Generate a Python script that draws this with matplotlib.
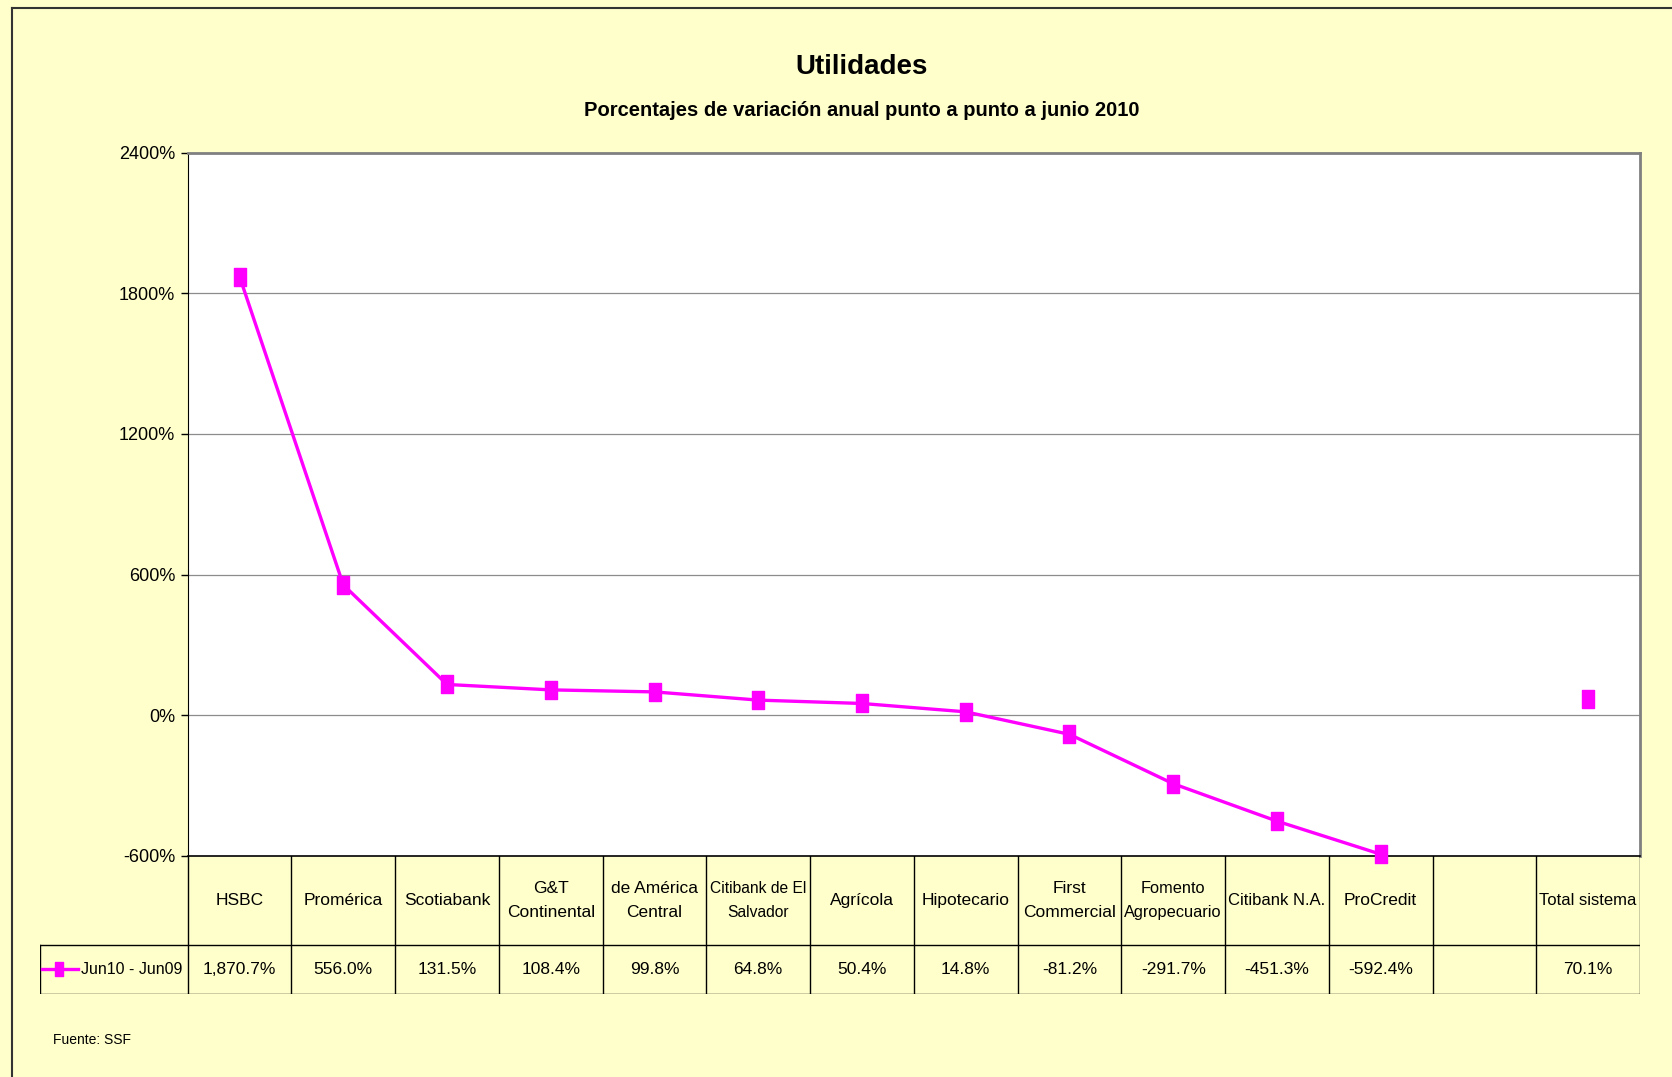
import matplotlib
matplotlib.use("Agg")
import matplotlib.pyplot as plt
import numpy as np
from matplotlib import font_manager
from matplotlib.path import Path
from matplotlib.lines import Line2D

# ---- data ----
categories = ["HSBC", "Promérica", "Scotiabank", "G&T\nContinental", "de América\nCentral",
              "Citibank de El\nSalvador", "Agrícola", "Hipotecario", "First\nCommercial",
              "Fomento\nAgropecuario", "Citibank N.A.", "ProCredit", "", "Total sistema"]
values = [1870.7, 556.0, 131.5, 108.4, 99.8, 64.8, 50.4, 14.8, -81.2, -291.7, -451.3, -592.4,
          np.nan, 70.1]
value_labels = ["1,870.7%", "556.0%", "131.5%", "108.4%", "99.8%", "64.8%", "50.4%", "14.8%",
                "-81.2%", "-291.7%", "-451.3%", "-592.4%", "", "70.1%"]
series_name = "Jun10 - Jun09"
yticks = [-600, 0, 600, 1200, 1800, 2400]
title = "Utilidades"
subtitle = "Porcentajes de variación anual punto a punto a junio 2010"
source = "Fuente: SSF"

# ---- fonts ----
names = {f.name for f in font_manager.fontManager.ttflist}
fam = "Liberation Sans Narrow" if "Liberation Sans Narrow" in names else "Liberation Sans"
plt.rcParams['font.family'] = [fam, 'DejaVu Sans']

BG = "#FFFFCC"
MAG = "#FF00FF"

W, H = 1672, 1077
fig = plt.figure(figsize=(W / 100, H / 100), dpi=100)
fig.patch.set_facecolor(BG)

def fx(px): return px / W
def fy(py): return 1 - py / H

left, right, top, bottom = 187.7, 1640.0, 152.5, 856.0
ax = fig.add_axes([fx(left), fy(bottom), fx(right) - fx(left), fy(top) - fy(bottom)])
ax.set_facecolor("white")

n = len(categories)
x = np.arange(n)
rect = Path([(-0.32, -0.5), (0.32, -0.5), (0.32, 0.5), (-0.32, 0.5), (-0.32, -0.5)],
            [Path.MOVETO, Path.LINETO, Path.LINETO, Path.LINETO, Path.CLOSEPOLY])
ax.plot(x, values, color=MAG, lw=2.4, marker=rect, markersize=12.5,
        markerfacecolor=MAG, markeredgecolor=MAG, clip_on=False, zorder=5)

ax.set_xlim(-0.5, n - 0.5)
ax.set_ylim(-600, 2400)
ax.set_yticks(yticks)
ax.set_yticklabels([f"{t}%" for t in yticks], fontsize=13)
ax.set_xticks([])
ax.tick_params(axis='y', direction='out', length=5, width=1, pad=4, color='black')
for t in yticks[1:-1]:
    ax.axhline(t, color="#8c8c8c", lw=0.9, zorder=1)
ax.spines['left'].set_color('black')
ax.spines['bottom'].set_color('black')
ax.spines['bottom'].set_linewidth(1.2)
ax.spines['top'].set_color('#808080')
ax.spines['right'].set_color('#808080')
ax.spines['top'].set_linewidth(2)
ax.spines['right'].set_linewidth(2)

# ---- data table ----
leg_left = 39.5
row1_bot = 944.8
row2_bot = 993.8
unit = (right - left) / n
xl = -0.5 - (left - leg_left) / unit
tab = fig.add_axes([fx(leg_left), fy(row2_bot), fx(right) - fx(leg_left), fy(bottom) - fy(row2_bot)])
tab.set_xlim(xl, n - 0.5)
h_val = row2_bot - row1_bot
h_cat = row1_bot - bottom
tab.set_ylim(0, h_val + h_cat)
tab.axis('off')
tab.patch.set_alpha(0)
lc = dict(color='black', lw=1.0)
for k in range(n + 1):
    tab.plot([-0.5 + k, -0.5 + k], [0, h_val + h_cat], **lc)
tab.plot([xl, xl], [0, h_val], **lc)
tab.plot([xl, n - 0.5], [0, 0], **lc)
tab.plot([xl, n - 0.5], [h_val, h_val], **lc)

renderer = fig.canvas.get_renderer()
maxw = unit - 6

def fit(t):
    fs = t.get_fontsize()
    while t.get_window_extent(renderer).width > maxw and fs > 8:
        fs -= 0.25
        t.set_fontsize(fs)

for i in range(n):
    t1 = tab.text(i, h_val + h_cat / 2, categories[i], ha='center', va='center', fontsize=12.5,
                  linespacing=1.75)
    t2 = tab.text(i, h_val / 2, value_labels[i], ha='center', va='center', fontsize=12.5)
    fit(t1)
    fit(t2)
# legend key
tab.add_line(Line2D([xl + 0.02, xl + 0.37], [h_val / 2, h_val / 2], color=MAG, lw=2.4))
tab.plot([xl + 0.19], [h_val / 2], marker=rect, markersize=10, color=MAG, lw=0)
tab.text(xl + 0.40, h_val / 2, series_name, ha='left', va='center', fontsize=11.5)

# ---- titles ----
fig.text(fx(862), fy(67), title, ha='center', va='center', fontsize=20, fontweight='bold')
fig.text(fx(862), fy(111), subtitle, ha='center', va='center', fontsize=14.5, fontweight='bold')
fig.text(fx(53), fy(1040), source, ha='left', va='center', fontsize=10)

# ---- outer border (left and top) ----
fig.add_artist(Line2D([fx(12), fx(12)], [fy(7.5), 0], transform=fig.transFigure, color='#333333', lw=1.5))
fig.add_artist(Line2D([fx(12), 1], [fy(7.5), fy(7.5)], transform=fig.transFigure, color='#333333', lw=1.5))

fig.savefig("out.png", dpi=100, facecolor=BG)
